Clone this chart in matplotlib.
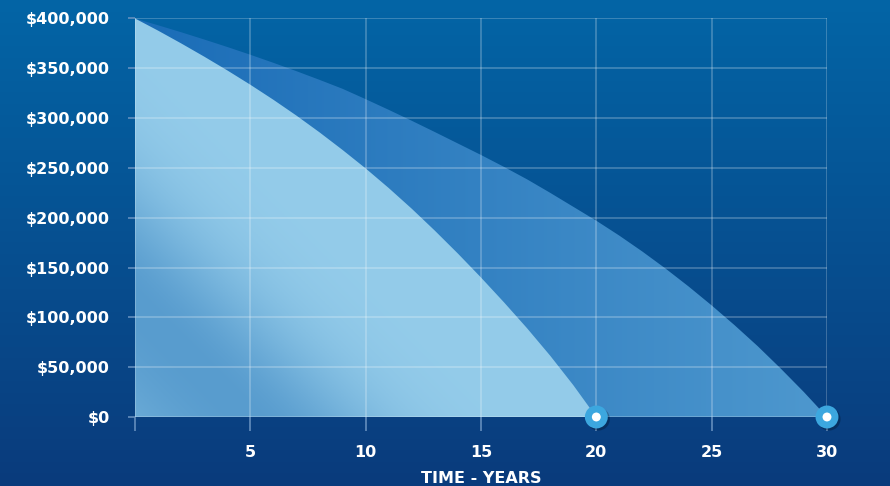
import numpy as np
import matplotlib.pyplot as plt
import matplotlib.patheffects as pe
from matplotlib.patches import Polygon

# Remaining loan balance (USD) at the end of each year
years_20 = list(range(0, 21))
balance_20 = [400000, 387800, 375000, 361700, 347900, 333500, 318400, 302500,
              285700, 268000, 249500, 229800, 209000, 187000, 164000, 140000,
              115000, 89000, 61500, 32000, 0]

years_30 = list(range(0, 31))
balance_30 = [400000, 393200, 386200, 378900, 371400, 363600, 355500, 347100,
              338400, 329400, 319000, 308300, 297300, 286000, 274500, 263000,
              251000, 238500, 225000, 211000, 197000, 182000, 166000, 149000,
              131000, 112000, 92000, 71000, 48500, 25000, 0]

x_ticks = [0, 5, 10, 15, 20, 25, 30]
x_tick_labels = ["", "5", "10", "15", "20", "25", "30"]
y_ticks = [0, 50000, 100000, 150000, 200000, 250000, 300000, 350000, 400000]
y_tick_labels = ["$0", "$50,000", "$100,000", "$150,000", "$200,000",
                 "$250,000", "$300,000", "$350,000", "$400,000"]
end_points = [20, 30]


def rgb(c):
    return np.array(c, dtype=float) / 255.0


fig = plt.figure(figsize=(8.9, 4.86), dpi=100)

# background: vertical blue gradient over the whole figure
bg = fig.add_axes([0, 0, 1, 1])
g = np.linspace(0, 1, 256)[:, None]
top_c, bot_c = rgb((3, 101, 166)), rgb((10, 59, 124))
bg_img = top_c[None, None, :] * (1 - g[:, :, None]) + bot_c[None, None, :] * g[:, :, None]
bg.imshow(np.repeat(bg_img, 2, axis=1), aspect="auto", extent=[0, 1, 0, 1])
bg.set_xlim(0, 1)
bg.set_ylim(0, 1)
bg.axis("off")

ax = fig.add_axes([0.1517, 0.142, 0.7775, 0.8200])
ax.set_facecolor("none")
ax.set_xlim(0, 30)
ax.set_ylim(0, 400000)

# grid of data coordinates for the gradient fills
nx, ny = 400, 300
tt, vv = np.meshgrid(np.linspace(0, 30, nx), np.linspace(0, 400000, ny))

# 30-year area: blue that lightens to the right
left_c, right_c = rgb((26, 108, 183)), rgb((78, 152, 206))
h = (tt / 30.0)[:, :, None]
img30 = left_c * (1 - h) + right_c * h
im30 = ax.imshow(img30, origin="lower", extent=[0, 30, 0, 400000],
                 aspect="auto", zorder=1)
poly30 = Polygon(list(zip(years_30, balance_30)) + [(30, 0), (0, 0)],
                 closed=True, facecolor="none", edgecolor="none",
                 transform=ax.transData)
ax.add_patch(poly30)
im30.set_clip_path(poly30)

# 20-year area: pale blue with a soft darker diagonal streak near the origin
# (distance measured roughly in screen pixels so the streak runs at 45 degrees)
s = tt * 23.1 + vv / 1005.0
width = np.where(s > 115, 120.0, 200.0)
d = np.exp(-((s - 115) / width) ** 2)[:, :, None] * 0.75
light_c, dark_c = rgb((148, 204, 234)), rgb((68, 140, 197))
img20 = light_c * (1 - d) + dark_c * d
im20 = ax.imshow(img20, origin="lower", extent=[0, 30, 0, 400000],
                 aspect="auto", zorder=1.5)
poly20 = Polygon(list(zip(years_20, balance_20)) + [(20, 0), (0, 0)],
                 closed=True, facecolor="none", edgecolor="none",
                 transform=ax.transData)
ax.add_patch(poly20)
im20.set_clip_path(poly20)

# grid drawn over the filled areas
ax.set_axisbelow(False)
ax.grid(True, color="white", alpha=0.24, linewidth=1.3)
for sp in ax.spines.values():
    sp.set_visible(False)

ax.set_xticks(x_ticks)
ax.set_xticklabels(x_tick_labels)
ax.set_yticks(y_ticks)
ax.set_yticklabels(y_tick_labels)
tick_c = (0.42, 0.58, 0.76)
ax.tick_params(axis="x", length=10, width=1.1, color=tick_c, pad=10,
               labelcolor="white", labelsize=11.5)
ax.tick_params(axis="y", length=5, width=1.1, color=tick_c, pad=13,
               labelcolor="white", labelsize=11.5)
for lbl in ax.get_xticklabels() + ax.get_yticklabels():
    lbl.set_fontweight("bold")

ax.set_xlabel("TIME - YEARS", color="white", fontsize=11.5, fontweight="bold",
              labelpad=8)

# payoff markers at the end of each loan term
ax.plot(end_points, [0] * len(end_points), linestyle="none", marker="o",
        markersize=11.5, markerfacecolor="white", markeredgecolor="#3ca7df",
        markeredgewidth=5, clip_on=False, zorder=6,
        path_effects=[pe.SimpleLineShadow(offset=(1.5, -1.5), alpha=0.25),
                      pe.Normal()])

fig.savefig("out.png", dpi=100)
